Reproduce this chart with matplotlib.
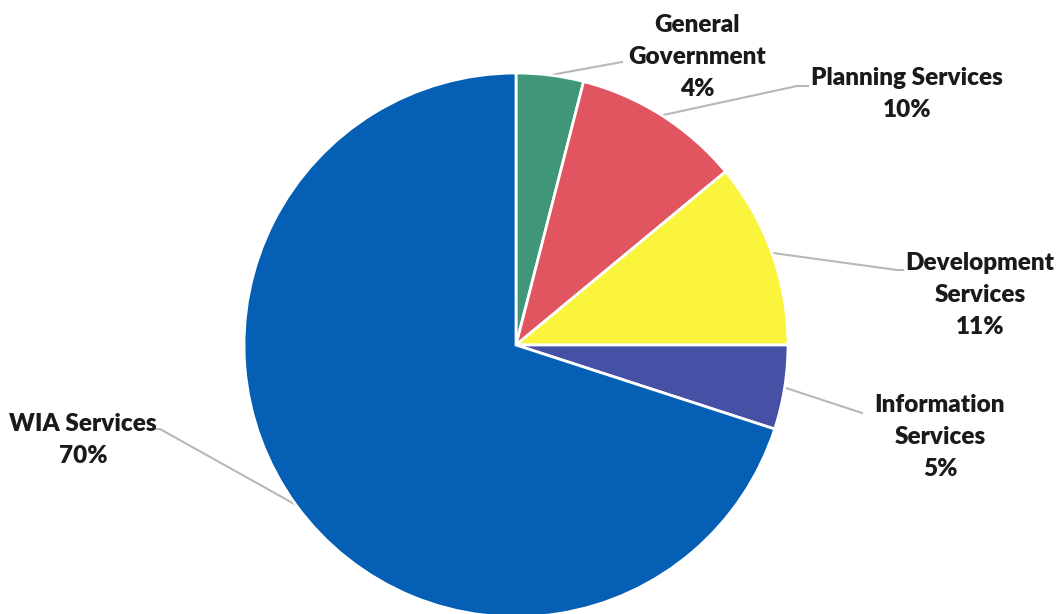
import numpy as np
import matplotlib.pyplot as plt

# data
categories = ["General\nGovernment", "Planning Services", "Development\nServices",
              "Information\nServices", "WIA Services"]
shares = [4, 10, 11, 5, 70]
colors = ["#409678", "#e05560", "#faf53c", "#4650a5", "#055fb4"]

# label layout (pixel coords, y measured from top)
label_xy = [(697, 57), (907, 94), (980, 295), (940, 437), (83, 440)]
elbow_xy = [(622, 62), (797, 86), (897, 270), (862, 413), (160, 429)]
elbow_end = [None, (808, 86), (903, 270), None, (150, 429)]

W, H = 1061, 614
fig = plt.figure(figsize=(W / 100, H / 100), dpi=100)
ax = fig.add_axes([0, 0, 1, 1])

cx, cy, r = 516, H - 345, 272
wedges, _ = ax.pie(shares, colors=colors, startangle=90, counterclock=False,
                   center=(cx, cy), radius=r,
                   wedgeprops=dict(edgecolor="white", linewidth=2))

ax.set_xlim(0, W)
ax.set_ylim(0, H)
ax.set_aspect("equal")
ax.axis("off")

for w, name, v, (tx, ty), (ex, ey), tail in zip(wedges, categories, shares,
                                               label_xy, elbow_xy, elbow_end):
    mid = np.deg2rad((w.theta1 + w.theta2) / 2)
    sx, sy = cx + r * np.cos(mid), cy + r * np.sin(mid)
    xs = [sx, ex]
    ys = [sy, H - ey]
    if tail is not None:
        xs.append(tail[0])
        ys.append(H - tail[1])
    ax.plot(xs, ys, color="#b8b8b8", linewidth=1.5, zorder=0)
    ax.text(tx, H - ty, f"{name}\n{v}%", ha="center", va="center",
            fontsize=17.5, fontweight="heavy", family=["Lato", "DejaVu Sans"],
            color="#1a1a1a", linespacing=1.58)

fig.savefig("out.png", dpi=100)
